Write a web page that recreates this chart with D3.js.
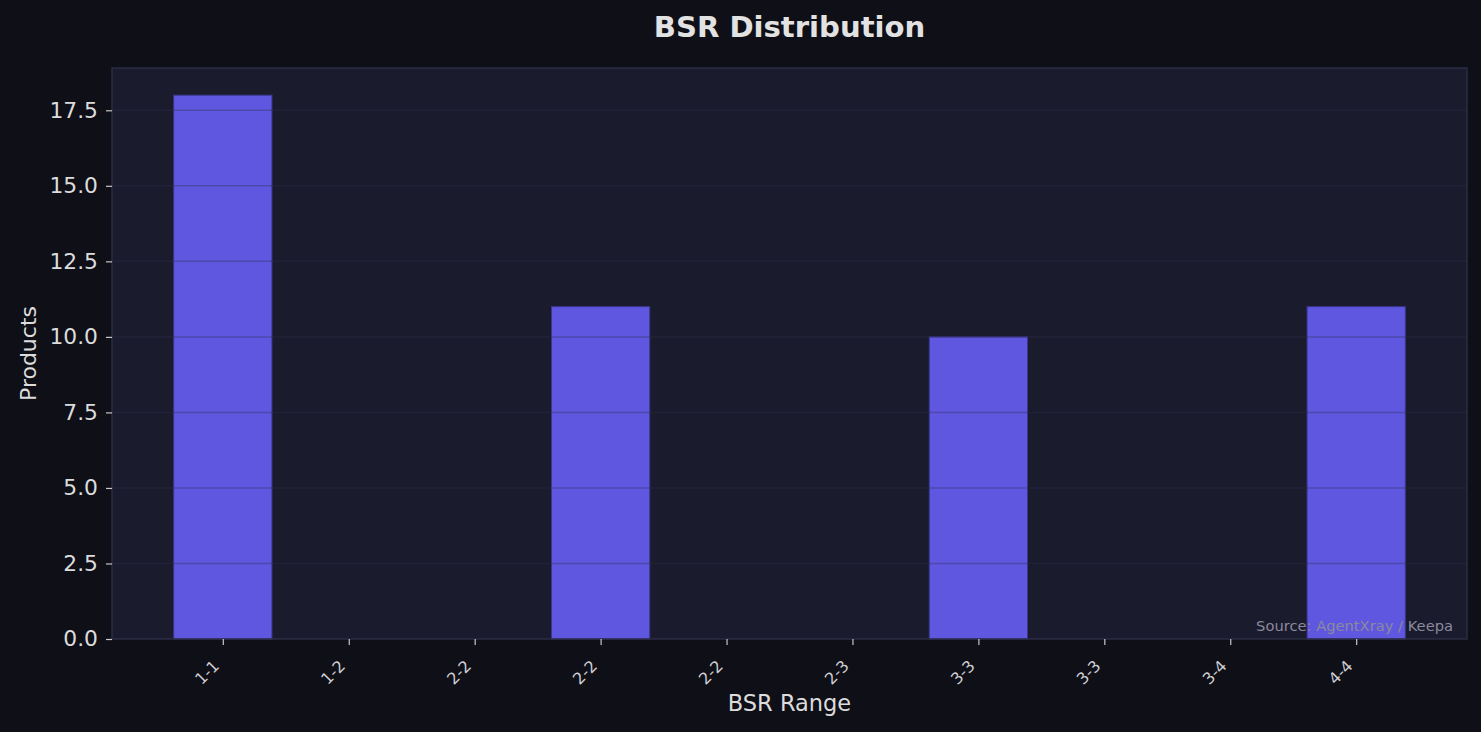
<!DOCTYPE html>
<html>
<head>
<meta charset="utf-8">
<script src="https://cdn.jsdelivr.net/npm/d3@7"></script>
<style>
  html, body { margin: 0; padding: 0; background: #0f0f17; }
  svg { display: block; font-family: "DejaVu Sans", sans-serif; }
</style>
</head>
<body>
<div id="chart"></div>
<script>
// BSR range buckets and product counts
var categories = ["1-1", "1-2", "2-2", "2-2", "2-2", "2-3", "3-3", "3-3", "3-4", "4-4"];
var products = [18, 0, 0, 11, 0, 0, 10, 0, 0, 11];
var yTicks = [0, 2.5, 5, 7.5, 10, 12.5, 15, 17.5];

var svgWidth = 1481, svgHeight = 732;
var margin = { top: 68, right: 14, bottom: 93, left: 112 };
var width = svgWidth - margin.left - margin.right;
var height = svgHeight - margin.top - margin.bottom;
var barWidth = 0.78;

var svg = d3.select("#chart").append("svg")
    .attr("width", svgWidth)
    .attr("height", svgHeight);

svg.append("rect")
    .attr("width", svgWidth)
    .attr("height", svgHeight)
    .attr("fill", "#0f0f17");

var g = svg.append("g")
    .attr("transform", "translate(" + margin.left + "," + margin.top + ")");

// matplotlib-like margins around the bars
var x = d3.scaleLinear().domain([-0.88, categories.length - 1 + 0.88]).range([0, width]);
var y = d3.scaleLinear().domain([0, 18.9]).range([height, 0]);

g.append("rect")
    .attr("width", width)
    .attr("height", height)
    .attr("fill", "#1b1b2e");

var data = categories.map(function(c, i) { return { i: i, label: c, value: products[i] }; });

g.selectAll(".bar")
    .data(data.filter(function(d) { return d.value > 0; }))
  .enter().append("rect")
    .attr("class", "bar")
    .attr("x", function(d) { return x(d.i - barWidth / 2); })
    .attr("width", function(d) { return x(barWidth) - x(0); })
    .attr("y", function(d) { return y(d.value); })
    .attr("height", function(d) { return y(0) - y(d.value); })
    .attr("fill", "#5f57e0")
    .attr("stroke", "#3a3890")
    .attr("stroke-width", 1);

// grid lines sit on top of the bars
g.selectAll(".grid")
    .data(yTicks.filter(function(t) { return t > 0; }))
  .enter().append("line")
    .attr("x1", 0)
    .attr("x2", width)
    .attr("y1", function(d) { return y(d); })
    .attr("y2", function(d) { return y(d); })
    .attr("stroke", "#2d2d44")
    .attr("stroke-opacity", 0.35)
    .attr("stroke-width", 1.5);

g.append("rect")
    .attr("width", width)
    .attr("height", height)
    .attr("fill", "none")
    .attr("stroke", "#2c2c45")
    .attr("stroke-width", 1.5);

var yAxis = g.append("g")
    .call(d3.axisLeft(y).tickValues(yTicks).tickFormat(d3.format(".1f")).tickSize(6).tickPadding(8));
yAxis.select(".domain").remove();
yAxis.selectAll(".tick line").attr("stroke", "#c8c8c8").attr("stroke-width", 1.2);
yAxis.selectAll(".tick text")
    .attr("fill", "#dcdcdc")
    .style("font-size", "21.8px")
    .style("font-family", "DejaVu Sans");

var xAxis = g.append("g")
    .attr("transform", "translate(0," + height + ")")
    .call(d3.axisBottom(x).tickValues(d3.range(categories.length)).tickFormat(function(i) { return categories[i]; }).tickSize(6));
xAxis.select(".domain").remove();
xAxis.selectAll(".tick line").attr("stroke", "#c8c8c8").attr("stroke-width", 1.2);
xAxis.selectAll(".tick text")
    .attr("fill", "#cfcfd4")
    .attr("text-anchor", "end")
    .attr("dy", null)
    .attr("y", null)
    .attr("transform", "translate(-3,28) rotate(-45)")
    .style("font-size", "16px")
    .style("font-family", "DejaVu Sans");

svg.append("text")
    .attr("x", margin.left + width / 2)
    .attr("y", 37)
    .attr("text-anchor", "middle")
    .attr("fill", "#e2e2e2")
    .style("font-size", "29.1px")
    .style("font-weight", "bold")
    .text("BSR Distribution");

svg.append("text")
    .attr("x", margin.left + width / 2)
    .attr("y", 711)
    .attr("text-anchor", "middle")
    .attr("fill", "#dcdcdc")
    .style("font-size", "22.5px")
    .text("BSR Range");

svg.append("text")
    .attr("transform", "translate(36," + (margin.top + height / 2) + ") rotate(-90)")
    .attr("text-anchor", "middle")
    .attr("fill", "#dcdcdc")
    .style("font-size", "22px")
    .text("Products");

g.append("text")
    .attr("x", width - 14)
    .attr("y", height - 8)
    .attr("text-anchor", "end")
    .attr("fill", "#8a8a9c")
    .style("font-size", "14.7px")
    .text("Source: AgentXray / Keepa");
</script>
</body>
</html>
